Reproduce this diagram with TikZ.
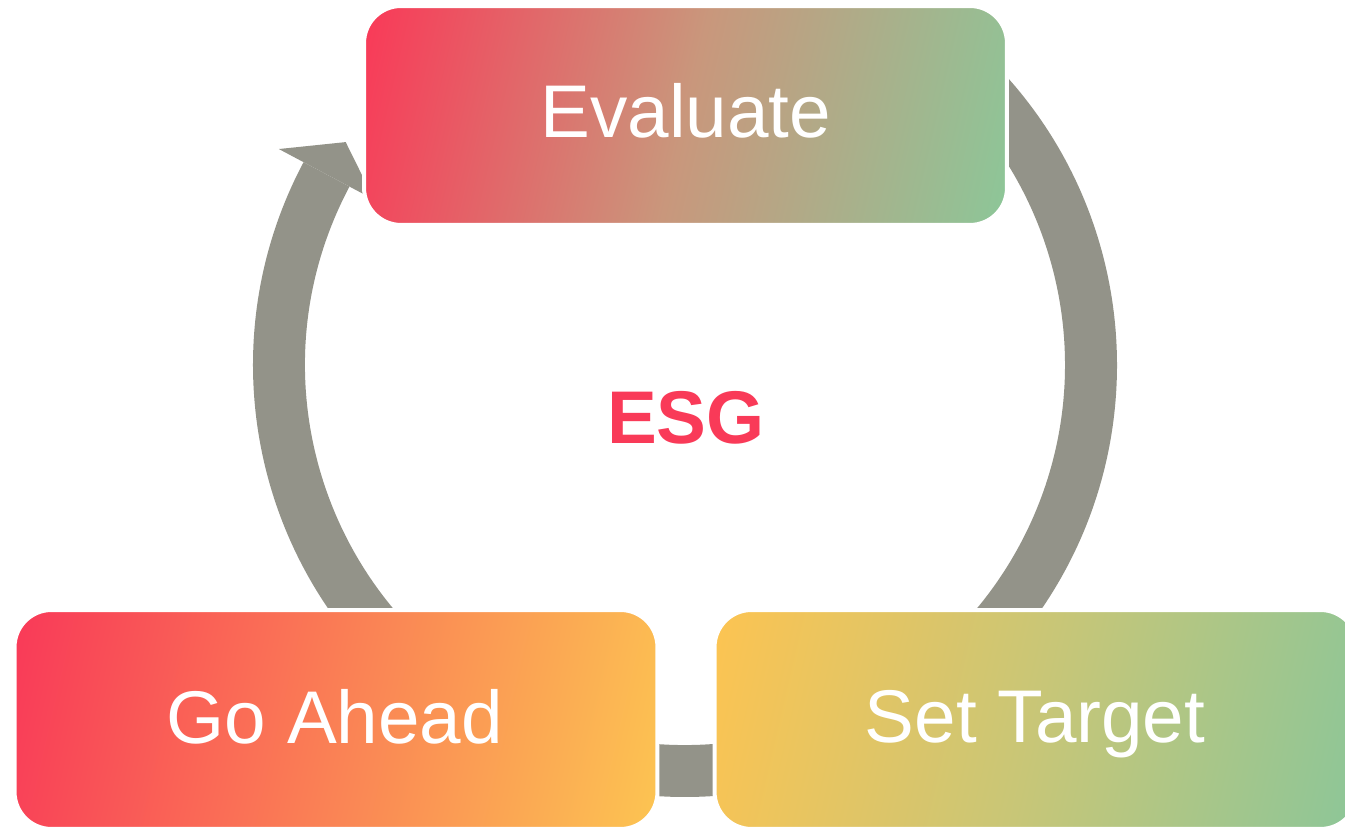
\documentclass[tikz,border=0pt]{standalone}
\usepackage{fontspec}
\setmainfont{Liberation Sans}
\usetikzlibrary{calc}
\definecolor{esgred}{HTML}{F93A58}
\definecolor{esggreen}{HTML}{8DC698}
\definecolor{esgyellow}{HTML}{FCC452}
\definecolor{evalmid}{HTML}{C9977C}
\definecolor{gomid}{HTML}{FA8055}
\definecolor{setmid}{HTML}{C8C677}
\definecolor{ringgrey}{HTML}{939389}
\tikzset{
  box/.style={rectangle, rounded corners=0.74cm, minimum width=12.86cm, minimum height=4.38cm,
    draw=white, line width=0.08cm, inner sep=0pt},
  grad/.style n args={3}{path picture={
    \shade[left color=#1, right color=#3, middle color=#2, shading angle=77]
      ($(path picture bounding box.center)+(-336,-336)$) rectangle
      ($(path picture bounding box.center)+(336,336)$);}},
  lbl/.style={font=\fontsize{42.5}{50}\selectfont, text=white, inner sep=0pt, anchor=base},
  ring/.style={fill=ringgrey}
}
\begin{document}
\begin{tikzpicture}[x=0.02cm,y=0.02cm]
\useasboundingbox (0,0) rectangle (1345,827);
\clip (0,0) rectangle (1345,827);
\coordinate (C) at (685,462);
% ring
\fill[ring] ($(C)+(48:432)$) arc[start angle=48, end angle=-208, radius=432]
  -- ($(C)+(-208:380)$) arc[start angle=-208, end angle=48, radius=380] -- cycle;
% arrow head
\fill[ring] ($(C)+(152:460)$) -- ($(C)+(146.7:406)$) -- ($(C)+(152:352)$) -- cycle;
% boxes
\node[box, grad={esgred}{evalmid}{esggreen}] (eval) at (685.5,711.5) {};
\node[box, grad={esgred}{gomid}{esgyellow}] (go) at (336,107.5) {};
\node[box, grad={esgyellow}{setmid}{esggreen}] (set) at (1036,107.5) {};
% labels
\node[lbl] (teval) at (686,689) {Evaluate};
\node[lbl] (tgo) at (335,83) {Go Ahead};
\node[lbl] (tset) at (1035,84) {Set Target};
\node[lbl, text=esgred, font=\fontsize{42.5}{50}\selectfont\bfseries] (esg) at (686,383) {ESG};
\end{tikzpicture}
\end{document}
